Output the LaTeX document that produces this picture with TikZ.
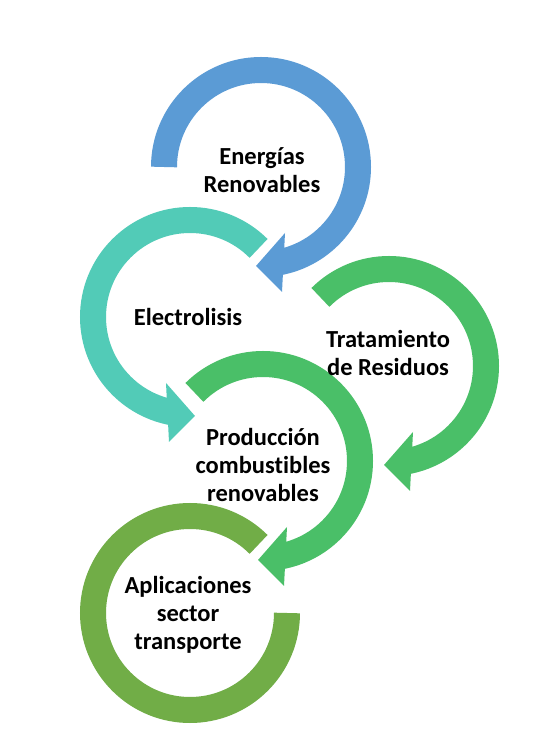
\documentclass[tikz,border=0pt]{standalone}
\usepackage{fontspec}
\setmainfont{Carlito}[Ligatures={NoCommon}]
\definecolor{cblue}{HTML}{5B9BD5}
\definecolor{cteal}{HTML}{52CBB7}
\definecolor{cgreen}{HTML}{4ABF68}
\definecolor{colive}{HTML}{71AD47}
\newcommand{\ringCW}[3]{%
  \begin{scope}[shift={(#1)}]
    \draw[#2, ringline] (#3:97) arc[start angle=#3, end angle=-80, radius=97];
    \fill[#2] (-5,-99) -- (24,-66) -- (21,-125) -- cycle;
  \end{scope}}
\newcommand{\ringCCW}[3]{%
  \begin{scope}[shift={(#1)}]
    \draw[#2, ringline] (#3:97) arc[start angle=#3, end angle=260, radius=97];
    \fill[#2] (5,-99) -- (-24,-66) -- (-21,-125) -- cycle;
  \end{scope}}
\begin{document}
\begin{tikzpicture}[x=1pt,y=1pt,
  ringline/.style={line width=26, line cap=butt},
  label/.style={align=center, inner sep=0pt, font=\fontsize{24.5}{28}\selectfont\bfseries, text=black}]
\useasboundingbox (0,0) rectangle (556,742);
\fill[white] (0,0) rectangle (556,742);
\coordinate (cE) at (261,575);
\coordinate (cEl) at (190,425);
\coordinate (cT) at (389,376);
\coordinate (cP) at (263,281);
\coordinate (cA) at (190,129);
% rings
\begin{scope}[shift={(cA)}]
  \draw[colive, ringline] (45:97) arc[start angle=45, end angle=360, radius=97];
\end{scope}
\ringCW{cP}{cgreen}{135}
\ringCW{cT}{cgreen}{135}
\ringCCW{cEl}{cteal}{45}
\ringCW{cE}{cblue}{180}
% labels
\node[label] (nE) at (262,572) {Energías\\Renovables};
\node[label] (nEl) at (188,425) {Electrolisis};
\node[label] (nT) at (388,389) {Tratamiento\\de Residuos};
\node[label] (nP) at (263,277) {Producción\\combustibles\\renovables};
\node[label] (nA) at (188,127) {Aplicaciones\\sector\\transporte};
\end{tikzpicture}
\end{document}
